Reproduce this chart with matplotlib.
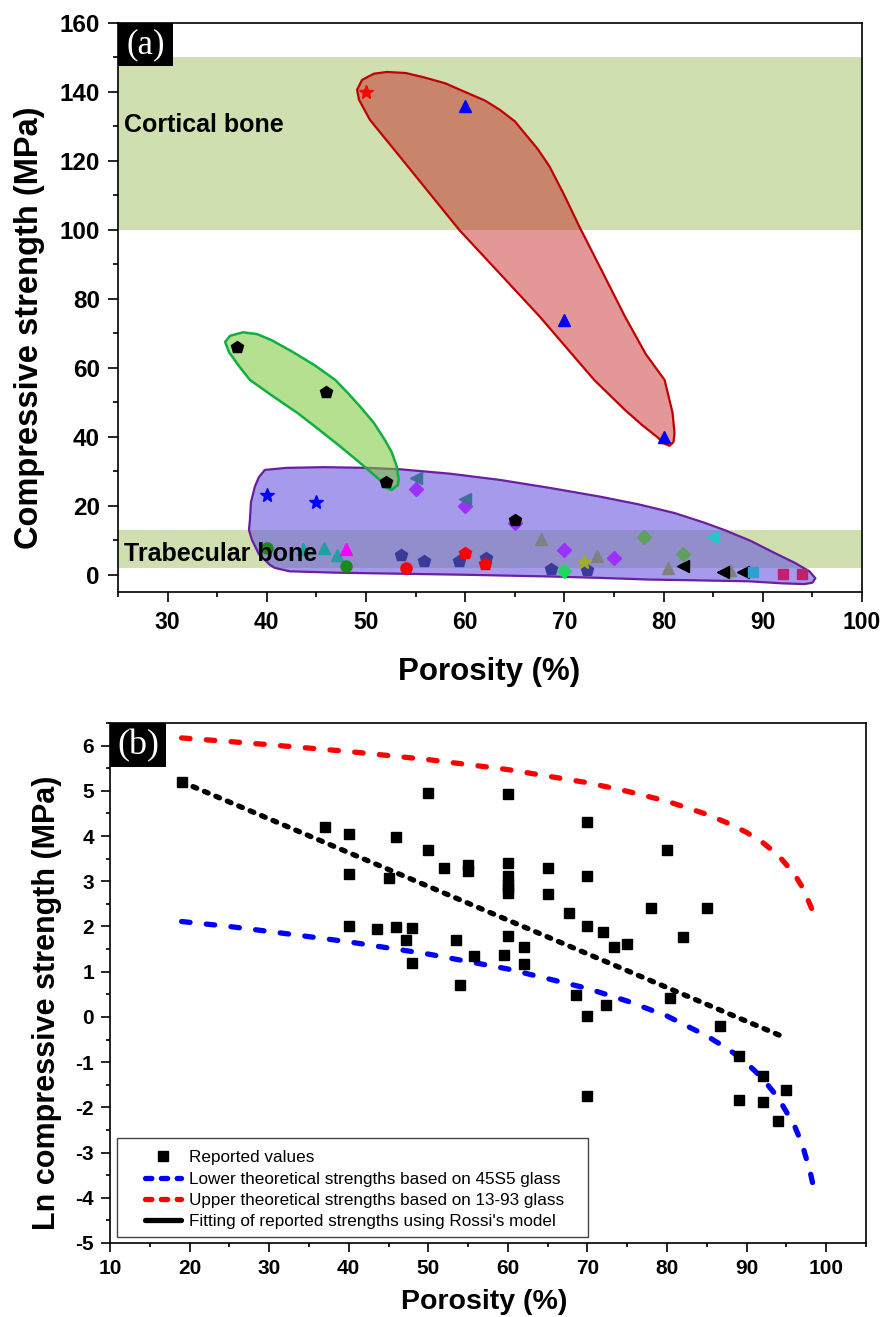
import matplotlib
matplotlib.use('Agg')
import matplotlib.pyplot as plt
from matplotlib.patches import Polygon, Rectangle
from matplotlib.lines import Line2D
from matplotlib.ticker import MultipleLocator

plt.rcParams['font.family'] = ['Liberation Sans', 'DejaVu Sans']
plt.rcParams['axes.unicode_minus'] = False

# ---------------- Panel (a) data ----------------
cortical_band = (100, 150)
trabecular_band = (2, 13)

red_star_x = [50];                 red_star_y = [140]
blue_tri_x = [60, 70, 80];         blue_tri_y = [136, 74, 40]
black_pent_x = [37, 46, 52, 65];   black_pent_y = [66, 53, 27, 16]
blue_star_x = [40, 45];            blue_star_y = [23, 21]
steel_ltri_x = [55, 60];           steel_ltri_y = [28, 22]
purple_dia_x = [55, 60, 65, 70, 75]; purple_dia_y = [25, 20, 15, 7.3, 5]
gray_tri_x = [67.6, 73.3, 80.4, 86.7]; gray_tri_y = [10.3, 5.3, 1.9, 1.3]
sage_dia_x = [78, 82];             sage_dia_y = [11, 6]
cyan_ltri_x = [85];                cyan_ltri_y = [11]
black_ltri_x = [82, 86, 88];       black_ltri_y = [2.6, 0.7, 0.7]
lblue_sq_x = [89];                 lblue_sq_y = [0.7]
crimson_sq_x = [92, 94];           crimson_sq_y = [0.3, 0.3]
teal_tri_x = [43.6, 45.8, 47.1];   teal_tri_y = [7.4, 7.9, 5.8]
magenta_tri_x = [48];              magenta_tri_y = [7.4]
green_circ_x = [40, 48];           green_circ_y = [7.7, 2.4]
red_circ_x = [54];                 red_circ_y = [2.1]
slate_pent_x = [53.5, 55.8, 59.4, 62.1, 68.6, 72.3]
slate_pent_y = [5.6, 4.1, 4.1, 4.8, 1.7, 1.4]
red_pent_x = [60, 62];             red_pent_y = [6.3, 3.2]
lime_dia_x = [70];                 lime_dia_y = [1.2]
olive_star_x = [72];               olive_star_y = [3.7]

# region outlines (Porosity %, MPa)
red_region_x = [49.1, 49.6, 50.8, 52.1, 54.0, 55.9, 58.0, 59.9, 62.0, 63.5, 65.0, 66.0,
                67.3, 68.5, 70.0, 71.5, 73.8, 76.1, 78.2, 80.1, 80.9, 81.1, 81.0, 80.6,
                79.9, 79.5, 77.8, 76.1, 73.0, 67.5, 59.4, 53.4, 50.4, 49.3]
red_region_y = [140.6, 143.5, 145.3, 145.8, 145.5, 144.2, 142.5, 140.1, 137.5, 134.8, 131.5, 128.0,
                123.5, 118.4, 110.0, 101.0, 88.0, 74.9, 64.0, 56.5, 47.0, 41.1, 38.5, 37.4,
                38.2, 39.6, 43.5, 47.8, 56.5, 74.9, 100.0, 121.3, 131.9, 137.7]
green_region_x = [37.6, 36.3, 35.8, 36.2, 37.2, 38.3, 40.5, 43.1, 45.3, 47.4, 49.5, 51.4, 51.9,
                  52.6, 53.2, 53.3, 53.1, 52.6, 51.9, 50.8, 49.4, 48.2, 46.9, 44.8, 42.5, 40.5, 39.0]
green_region_y = [70.3, 69.3, 67.5, 64.5, 60.5, 56.5, 52.0, 46.9, 42.0, 37.2, 32.2, 27.5, 25.4,
                  24.6, 26.0, 27.5, 31.4, 35.5, 39.1, 44.0, 48.8, 52.6, 56.5, 60.8, 64.8, 68.0, 69.8]
purple_region_x = [39.8, 42.0, 45.8, 50.0, 53.4, 58.5, 63.5, 68.5, 73.5, 77.5, 81.1, 84.0, 86.1,
                   88.8, 91.2, 93.2, 94.7, 95.3, 95.0, 94.2, 92.0, 88.6, 83.0, 78.6, 73.5, 68.5,
                   60.0, 53.4, 47.0, 42.3, 40.8, 40.3, 39.2, 38.5, 38.2, 38.3, 38.4, 38.8, 39.2]
purple_region_y = [30.4, 31.0, 31.2, 31.0, 30.6, 29.3, 27.5, 25.2, 22.7, 20.4, 17.9, 15.2, 13.0,
                   9.8, 6.3, 3.5, 1.0, -1.0, -2.3, -2.7, -2.5, -1.9, -1.6, -1.4, -0.9, -0.5,
                   0.0, 0.3, 0.6, 1.0, 2.0, 2.9, 6.0, 10.1, 13.0, 16.0, 21.0, 25.6, 28.3]

# ---------------- Panel (b) data ----------------
rep_x = [19, 50, 60, 70, 37, 40, 46, 50, 80, 52, 55, 55, 60, 60, 60, 60, 60, 65, 40, 45,
         70, 65, 67.7, 78, 85, 70, 72, 75, 73.3, 82, 40, 43.5, 46, 48, 47.2, 53.5, 60, 62,
         55.7, 59.5, 48, 62, 54, 68.5, 70, 72.3, 80.4, 86.6, 89, 92, 95, 70, 89, 92, 94]
rep_y = [5.2, 4.95, 4.92, 4.30, 4.19, 4.05, 3.97, 3.70, 3.70, 3.29, 3.35, 3.22, 3.40, 3.11,
         2.95, 2.85, 2.74, 3.29, 3.15, 3.07, 3.11, 2.72, 2.30, 2.41, 2.41, 2.02, 1.87, 1.62,
         1.55, 1.76, 2.0, 1.94, 1.98, 1.96, 1.69, 1.69, 1.80, 1.55, 1.35, 1.38, 1.19, 1.16,
         0.71, 0.49, 0.01, 0.27, 0.42, -0.21, -0.86, -1.30, -1.61, -1.76, -1.83, -1.89, -2.30]

upper_x = [19, 25, 30, 40, 50, 60, 70, 75, 80, 85, 88, 90, 92, 94, 96, 97, 98, 98.6]
upper_y = [6.17, 6.09, 6.02, 5.87, 5.69, 5.47, 5.18, 4.99, 4.77, 4.48, 4.26, 4.08, 3.86,
           3.57, 3.16, 2.87, 2.47, 2.2]
lower_x = [19, 25, 30, 40, 50, 60, 70, 75, 80, 85, 88, 90, 92, 94, 96, 97, 98, 98.3]
lower_y = [2.11, 2.0, 1.89, 1.66, 1.39, 1.06, 0.63, 0.35, 0.02, -0.42, -0.75, -1.02, -1.36,
           -1.80, -2.40, -2.83, -3.44, -3.68]
fit_x = [19, 95]
fit_y = [5.2, -0.47]

legend_labels = ["Reported values",
                 "Lower theoretical strengths based on 45S5 glass",
                 "Upper theoretical strengths based on 13-93 glass",
                 "Fitting of reported strengths using Rossi's model"]

# ---------------- Figure ----------------
W, H = 882, 1317
fig = plt.figure(figsize=(W / 100, H / 100), dpi=100)

def fig_axes(l, t, r, b):
    return fig.add_axes([l / W, 1 - b / H, (r - l) / W, (b - t) / H])

band_color = '#cfdfb0'

# ===== Panel (a) =====
ax = fig_axes(118, 23, 862, 592)
ax.set_xlim(25, 100)
ax.set_ylim(-5, 160)
ax.axhspan(*cortical_band, color=band_color, lw=0, zorder=0)
ax.axhspan(*trabecular_band, color=band_color, lw=0, zorder=0)

ax.add_patch(Polygon(list(zip(purple_region_x, purple_region_y)), closed=True,
                     facecolor=(0.40, 0.32, 0.88, 0.58), edgecolor='#6a1fa0', lw=1.6,
                     joinstyle='round', zorder=1))
ax.add_patch(Polygon(list(zip(red_region_x, red_region_y)), closed=True,
                     facecolor=(0.76, 0.08, 0.08, 0.44), edgecolor='#c00000', lw=1.6,
                     joinstyle='round', zorder=1))
ax.add_patch(Polygon(list(zip(green_region_x, green_region_y)), closed=True,
                     facecolor=(0.47, 0.78, 0.20, 0.55), edgecolor='#10b040', lw=1.8,
                     joinstyle='round', zorder=2))

series_a = [
    (red_star_x, red_star_y, '*', 'red', 10),
    (blue_tri_x, blue_tri_y, '^', 'blue', 9),
    (purple_dia_x, purple_dia_y, 'D', '#9b30ff', 7),
    (black_pent_x, black_pent_y, 'p', 'black', 9),
    (blue_star_x, blue_star_y, '*', 'blue', 10),
    (steel_ltri_x, steel_ltri_y, '<', '#3f6f9a', 9),
    (gray_tri_x, gray_tri_y, '^', 'gray', 9),
    (sage_dia_x, sage_dia_y, 'D', '#5f9f5f', 7),
    (cyan_ltri_x, cyan_ltri_y, '<', '#20c8c8', 9),
    (black_ltri_x, black_ltri_y, '<', 'black', 9),
    (lblue_sq_x, lblue_sq_y, 's', '#2ea0d0', 7),
    (crimson_sq_x, crimson_sq_y, 's', '#c02070', 7),
    (teal_tri_x, teal_tri_y, '^', '#20a0a0', 9),
    (magenta_tri_x, magenta_tri_y, '^', '#ff00ff', 9),
    (green_circ_x, green_circ_y, 'o', '#1a8a1a', 8),
    (red_circ_x, red_circ_y, 'o', 'red', 8),
    (slate_pent_x, slate_pent_y, 'p', '#3a3a9a', 9),
    (red_pent_x, red_pent_y, 'p', 'red', 9),
    (lime_dia_x, lime_dia_y, 'D', '#20d860', 7),
    (olive_star_x, olive_star_y, '*', '#a0b020', 10),
]
for xs, ys, m, c, s in series_a:
    ax.plot(xs, ys, ls='none', marker=m, color=c, ms=s, mec=c, zorder=5)

ax.text(25.6, 130.5, 'Cortical bone', fontsize=18, fontweight='bold', ha='left', va='center', zorder=6)
ax.text(25.6, 6, 'Trabecular bone', fontsize=18, fontweight='bold', ha='left', va='center', zorder=6)

ax.xaxis.set_major_locator(MultipleLocator(10))
ax.xaxis.set_minor_locator(MultipleLocator(5))
ax.yaxis.set_major_locator(MultipleLocator(20))
ax.yaxis.set_minor_locator(MultipleLocator(10))
ax.tick_params(which='major', direction='out', length=7, width=1.2, top=False, right=False)
ax.tick_params(which='minor', direction='out', length=3.5, width=1.2, top=False, right=False)
ax.tick_params(axis='x', which='major', labelsize=16.5, pad=7)
ax.tick_params(axis='y', which='major', labelsize=17.5, pad=6)
for lab in ax.get_xticklabels() + ax.get_yticklabels():
    lab.set_fontweight('bold')
for sp in ax.spines.values():
    sp.set_linewidth(1.2)

ax.add_patch(Rectangle((0, 0.924), 0.074, 0.076, transform=ax.transAxes,
                       facecolor='black', edgecolor='none', zorder=7, clip_on=False))
ax.text(0.037, 0.962, '(a)', transform=ax.transAxes, color='white', fontsize=25,
        family=['Liberation Serif', 'DejaVu Serif'], ha='center', va='center', zorder=8)

fig.text(30 / W, 1 - 328 / H, 'Compressive strength (MPa)', rotation=90, fontsize=23.5,
         fontweight='bold', ha='center', va='center')
fig.text(489 / W, 1 - 672 / H, 'Porosity (%)', fontsize=22.5, fontweight='bold',
         ha='center', va='center')

# ===== Panel (b) =====
bx = fig_axes(110, 723, 866, 1243)
bx.set_xlim(10, 105)
bx.set_ylim(-5, 6.5)

lw = 3.8
bx.plot(rep_x, rep_y, ls='none', marker='s', color='black', ms=7, zorder=4)
bx.plot(lower_x, lower_y, color='blue', lw=lw, dashes=(1.6, 3.1),
        dash_capstyle='round', zorder=3)
bx.plot(upper_x, upper_y, color='red', lw=lw, dashes=(1.6, 3.1),
        dash_capstyle='round', zorder=3)
bx.plot(fit_x, fit_y, color='black', lw=lw, dashes=(0.75, 1.6),
        dash_capstyle='round', zorder=3)

h_rep = Line2D([], [], ls='none', marker='s', color='black', ms=7)
h_low = Line2D([], [], color='blue', lw=lw, dashes=(1.2, 1.8), dash_capstyle='round')
h_up = Line2D([], [], color='red', lw=lw, dashes=(1.2, 1.8), dash_capstyle='round')
h_fit = Line2D([], [], color='black', lw=lw, solid_capstyle='round')

bx.add_patch(Rectangle((0.0089, 0.0115), 0.623, 0.19, transform=bx.transAxes,
                       facecolor='white', edgecolor='#444444', lw=1.0, zorder=5))
leg = bx.legend([h_rep, h_low, h_up, h_fit], legend_labels, loc='upper left',
                bbox_to_anchor=(0.046, 0.178), frameon=False, fontsize=12.3,
                handlelength=2.1, handletextpad=0.5, labelspacing=0.36,
                borderpad=0, borderaxespad=0)
leg.set_zorder(6)

bx.xaxis.set_major_locator(MultipleLocator(10))
bx.xaxis.set_minor_locator(MultipleLocator(5))
bx.yaxis.set_major_locator(MultipleLocator(1))
bx.yaxis.set_minor_locator(MultipleLocator(0.5))
bx.tick_params(which='major', direction='out', length=6.5, width=1.2, top=False, right=False)
bx.tick_params(which='minor', direction='out', length=3.2, width=1.2, top=False, right=False)
bx.tick_params(axis='both', which='major', labelsize=15, pad=5)
for lab in bx.get_xticklabels() + bx.get_yticklabels():
    lab.set_fontweight('bold')
for sp in bx.spines.values():
    sp.set_linewidth(1.2)

bx.add_patch(Rectangle((0, 0.915), 0.074, 0.085, transform=bx.transAxes,
                       facecolor='black', edgecolor='none', zorder=7, clip_on=False))
bx.text(0.037, 0.957, '(b)', transform=bx.transAxes, color='white', fontsize=26,
        family=['Liberation Serif', 'DejaVu Serif'], ha='center', va='center', zorder=8)

fig.text(47 / W, 1 - 1003 / H, 'Ln compressive strength (MPa)', rotation=90, fontsize=22,
         fontweight='bold', ha='center', va='center')
fig.text(484 / W, 1 - 1302 / H, 'Porosity (%)', fontsize=20.5, fontweight='bold',
         ha='center', va='center')

fig.savefig('out.png', dpi=100, facecolor='white')
